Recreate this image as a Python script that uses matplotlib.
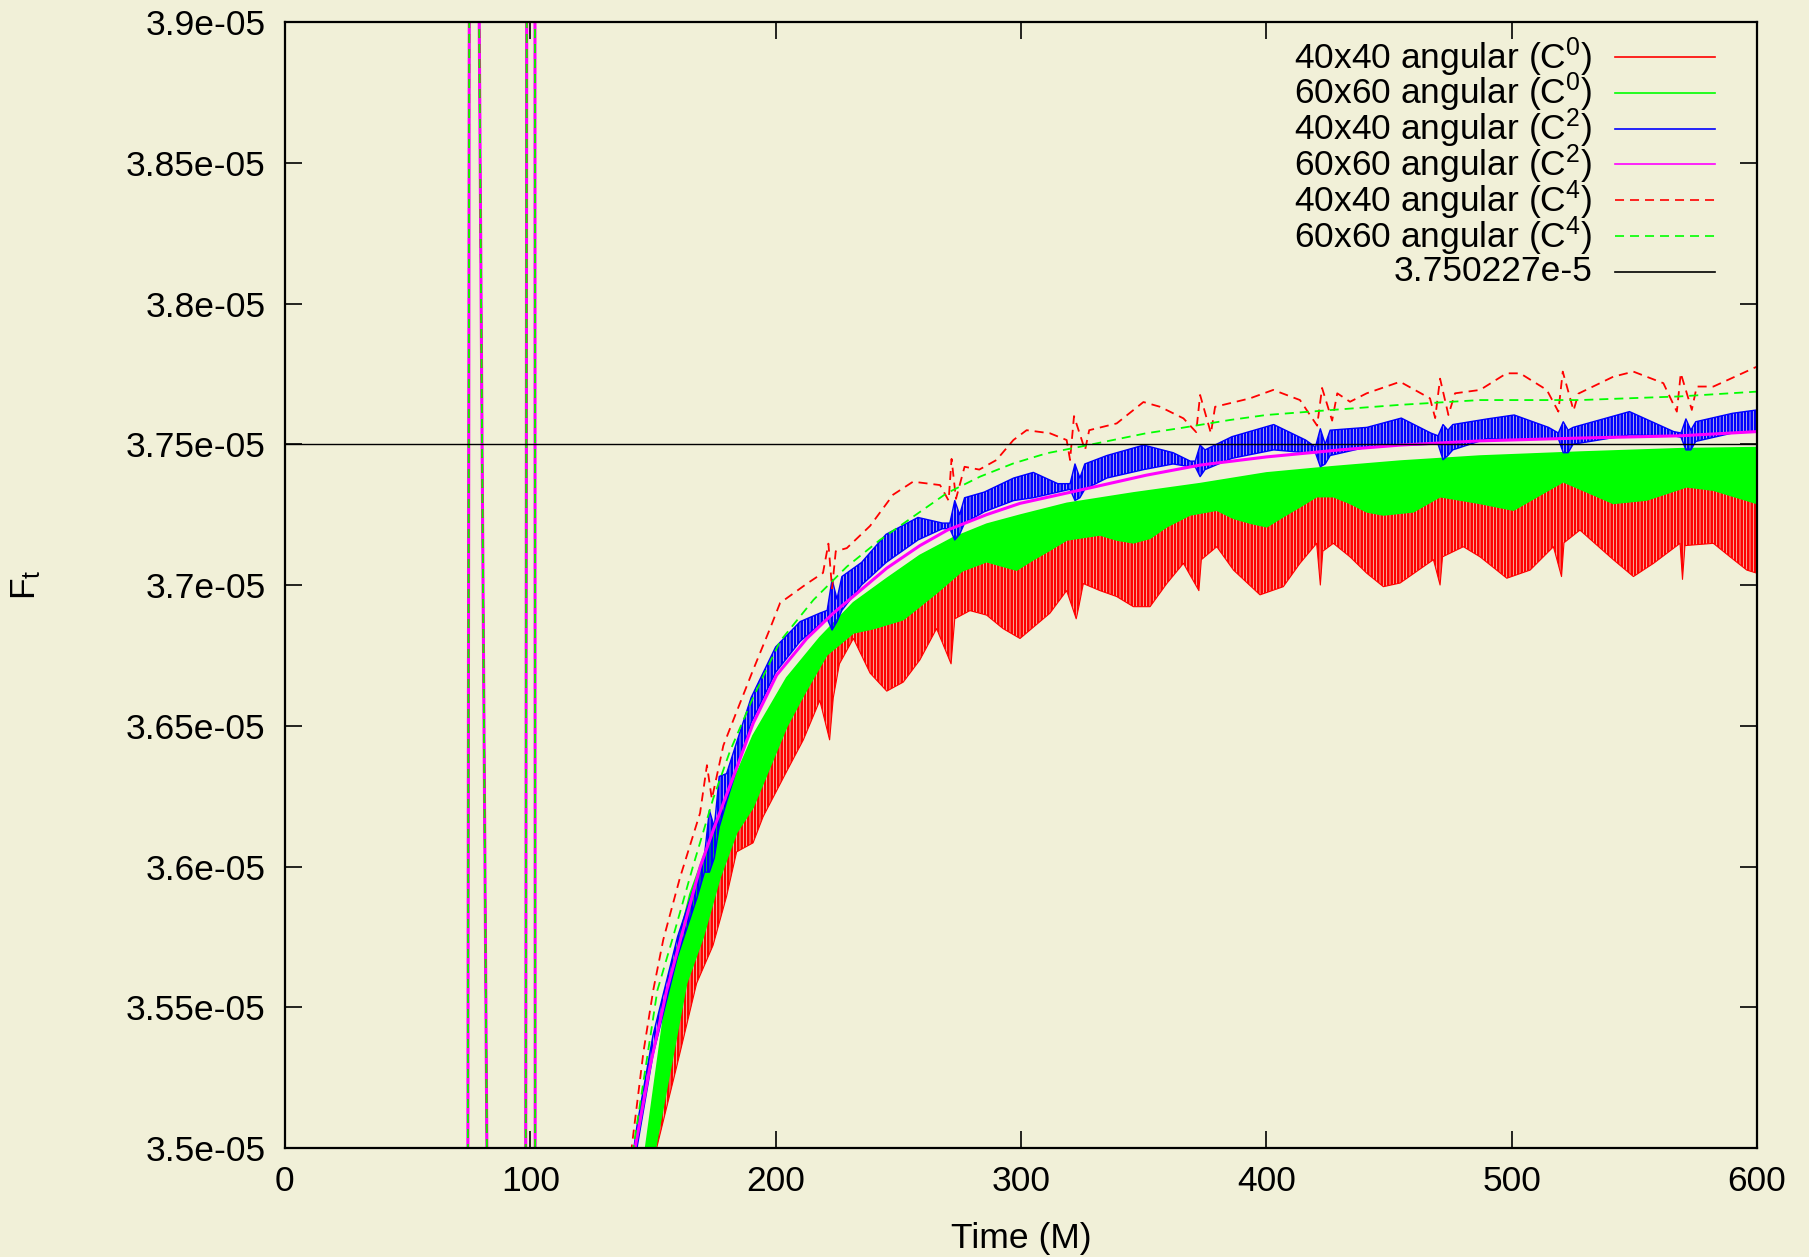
import numpy as np
import matplotlib.pyplot as plt

plt.rcParams['font.family'] = ['Liberation Sans', 'DejaVu Sans']
plt.rcParams['mathtext.fontset'] = 'custom'
plt.rcParams['mathtext.rm'] = 'Liberation Sans'
plt.rcParams['mathtext.it'] = 'Liberation Sans'
plt.rcParams['lines.scale_dashes'] = False
plt.rcParams['hatch.linewidth'] = 1.9

# all values in units of 1e-5
E = 1e-5

# early transient shared by every run (goes far off the plotted range)
transient_t = [0, 74.5, 75.2, 78.8, 82.7, 98.1, 98.6, 101.9, 102.0, 130]
transient_v = [3.20, 3.45, 3.95, 3.95, 3.45, 3.45, 3.95, 3.95, 3.45, 3.42]

# 40x40 angular (C0): oscillating band, top and bottom envelopes
c0_40_hi_t = [130, 148, 160, 175, 190, 205, 220, 240, 260, 280, 300, 340, 380, 420, 460, 500, 540, 600]
c0_40_hi = [3.42, 3.5, 3.55, 3.605, 3.642, 3.664, 3.680, 3.697, 3.708, 3.717, 3.722, 3.730,
            3.736, 3.740, 3.743, 3.745, 3.746, 3.747]
c0_40_lo_t = [130, 151.5, 159.7, 167.8, 174.5, 180, 184.1, 190.8, 194.9, 204.5,
              211.3, 218, 222, 223.5, 226, 231.7, 238.5, 245.3, 252, 258.8,
              265.6, 271.5, 273, 279.2, 286, 292.7, 299.6, 311.8, 318.6, 322.5,
              323.5, 325.4, 332.2, 339, 345.8, 352.6, 359.4, 366.2, 372.5, 373.5,
              379.8, 386.6, 397.4, 406.9, 413.7, 420.5, 422, 423, 427.3, 434.1,
              440.9, 447.7, 454.5, 459.9, 468.1, 470.8, 471.8, 480.3, 487.1, 498,
              507.5, 517, 520.3, 521.3, 527.8, 541.4, 549.6, 557.8, 568.6, 569.6,
              570.6, 582.2, 589, 595.8, 599.9]
c0_40_lo = [3.40, 3.5, 3.529, 3.5585, 3.572, 3.5894, 3.6052, 3.6084, 3.6177, 3.6338,
            3.645, 3.659, 3.645, 3.660, 3.672, 3.681, 3.6687, 3.6623, 3.6655, 3.6734,
            3.6845, 3.672, 3.688, 3.6909, 3.6893, 3.6845, 3.681, 3.690, 3.698, 3.688,
            3.692, 3.7005, 3.698, 3.6959, 3.6923, 3.6923, 3.7005, 3.7077, 3.698, 3.709,
            3.7136, 3.7053, 3.6965, 3.6994, 3.7077, 3.7148, 3.700, 3.712, 3.7148, 3.710,
            3.7042, 3.6994, 3.7007, 3.704, 3.709, 3.700, 3.710, 3.7136, 3.710, 3.7024,
            3.7053, 3.7136, 3.703, 3.715, 3.7195, 3.709, 3.703, 3.7077, 3.7148, 3.702,
            3.714, 3.7148, 3.710, 3.7053, 3.7042]

# 60x60 angular (C0)
c0_60_hi_t = [130, 147, 156.2, 165, 175.3, 190.8, 204.5, 218, 231.7, 245.3, 258.8, 272.4,
              286, 299.6, 318.7, 345.8, 373, 400, 427, 454.5, 487, 527.8, 568.6, 600]
c0_60_hi = [3.44, 3.5, 3.5585, 3.590, 3.615, 3.6465, 3.667, 3.6813, 3.6937, 3.7023, 3.7105,
            3.7168, 3.7216, 3.7248, 3.729, 3.7327, 3.736, 3.7398, 3.742, 3.7440, 3.7458,
            3.7472, 3.7484, 3.7488]
c0_60_lo_t = [130, 151, 163.7, 170.5, 177.3, 184.1, 190.8, 204.5, 211.3, 220.8,
              231.7, 239.8, 252, 265.6, 276, 286, 298.2, 305, 311.8, 318.6,
              332.2, 339, 345.8, 352.6, 359.4, 368.9, 379.8, 386.6, 393.4, 400.2,
              406.9, 413.7, 420.5, 427.3, 434.1, 440.9, 447.7, 459.9, 470.8, 487.1,
              500.7, 521, 541.4, 555, 571.3, 582.2, 599.9]
c0_60_lo = [3.40, 3.5, 3.5585, 3.575, 3.596, 3.612, 3.621, 3.6496, 3.6607, 3.6751,
            3.683, 3.6845, 3.6877, 3.6972, 3.705, 3.7083, 3.7053, 3.709, 3.7124, 3.716,
            3.7178, 3.716, 3.715, 3.7166, 3.7207, 3.7249, 3.7266, 3.7237, 3.722, 3.7207,
            3.7243, 3.7278, 3.7314, 3.7314, 3.729, 3.726, 3.7249, 3.726, 3.7314, 3.729,
            3.7266, 3.7367, 3.729, 3.7302, 3.7349, 3.7337, 3.729]

# 40x40 angular (C2)
c2_40_t = [135, 143.5, 150, 160, 168, 171, 173, 175, 177, 180,
           190, 200, 210, 218, 221, 223, 225, 227, 235, 245,
           258, 268, 271, 273, 275, 277, 285, 297, 305, 315,
           320, 322, 324, 326, 335, 350, 362, 369, 371, 373,
           375, 386, 403, 416, 420, 422, 424, 426, 441, 455,
           467, 470, 472, 474, 476, 490, 501, 515, 519, 521,
           523, 525, 548, 566, 569, 571, 573, 575, 590, 600]
c2_40_hi = [3.455, 3.508, 3.540, 3.575, 3.596, 3.604, 3.620, 3.614, 3.632, 3.633,
            3.660, 3.678, 3.687, 3.690, 3.691, 3.702, 3.695, 3.703, 3.708, 3.718,
            3.724, 3.722, 3.722, 3.730, 3.725, 3.731, 3.733, 3.738, 3.740, 3.736,
            3.736, 3.743, 3.738, 3.743, 3.746, 3.7497, 3.747, 3.744, 3.744, 3.7497,
            3.748, 3.7527, 3.757, 3.7515, 3.749, 3.7555, 3.750, 3.755, 3.756, 3.7593,
            3.754, 3.753, 3.757, 3.755, 3.757, 3.759, 3.7604, 3.756, 3.754, 3.758,
            3.755, 3.756, 3.7616, 3.7545, 3.754, 3.759, 3.755, 3.758, 3.761, 3.7622]
c2_40_lo = [3.445, 3.500, 3.533, 3.568, 3.589, 3.598, 3.598, 3.603, 3.614, 3.623,
            3.651, 3.669, 3.680, 3.686, 3.688, 3.684, 3.687, 3.691, 3.700, 3.708,
            3.716, 3.720, 3.720, 3.716, 3.718, 3.722, 3.726, 3.730, 3.731, 3.733,
            3.734, 3.730, 3.731, 3.734, 3.738, 3.741, 3.743, 3.742, 3.742, 3.7385,
            3.741, 3.745, 3.748, 3.747, 3.747, 3.742, 3.743, 3.746, 3.749, 3.7497,
            3.750, 3.750, 3.7445, 3.746, 3.748, 3.752, 3.7515, 3.752, 3.752, 3.747,
            3.747, 3.750, 3.7533, 3.753, 3.7525, 3.748, 3.748, 3.751, 3.754, 3.7545]

# 60x60 angular (C2)
c2_60_t = [130, 142.7, 148.8, 155.6, 163.7, 169.3, 174.6, 184.1, 190.9, 200.4,
           212.7, 223.5, 231.7, 245.3, 258.8, 270, 286, 299.6, 324, 351,
           373, 400, 430, 454.5, 487, 527.8, 568.6, 600]
c2_60 = [3.43, 3.5, 3.529, 3.556, 3.582, 3.600, 3.613, 3.635, 3.651, 3.668,
         3.681, 3.690, 3.696, 3.706, 3.714, 3.7195, 3.725, 3.729, 3.7337, 3.739,
         3.7426, 3.7455, 3.748, 3.7497, 3.7512, 3.7522, 3.7530, 3.7545]

# 40x40 angular (C4)
c4_40_t = [130, 141.3, 146.1, 150.1, 154.2, 161, 169.2, 172, 174, 178.7,
           184.1, 190.9, 197.7, 201.8, 212.6, 219.3, 221.5, 223, 224.5, 229,
           238.5, 247.9, 256, 267, 270.5, 271.7, 273.5, 277, 283, 290,
           296.9, 302.3, 311.8, 318.6, 320.0, 321.6, 326.1, 327.8, 339, 349.9,
           356.7, 366.2, 371.4, 373, 377.4, 379.1, 393.3, 402.8, 413.7, 420.7,
           422.7, 426.8, 428.9, 434.1, 440.9, 454.5, 466.7, 468.8, 470.8, 474.2,
           476.9, 487.1, 497.9, 503.4, 514.3, 519.0, 520.8, 525.2, 527.2, 541.4,
           549.6, 561.8, 567.3, 568.9, 573.4, 575.4, 582.2, 600]
c4_40 = [3.40, 3.5, 3.534, 3.556, 3.574, 3.596, 3.619, 3.636, 3.624, 3.643,
         3.655, 3.670, 3.6845, 3.6936, 3.7004, 3.7043, 3.7147, 3.6988, 3.712, 3.7131,
         3.721, 3.7321, 3.7367, 3.7355, 3.730, 3.7448, 3.7306, 3.742, 3.741, 3.7444,
         3.7515, 3.755, 3.7539, 3.7515, 3.7444, 3.760, 3.7479, 3.755, 3.7574, 3.765,
         3.7633, 3.7592, 3.7543, 3.7675, 3.7539, 3.7633, 3.7663, 3.7693, 3.7657, 3.7566,
         3.770, 3.7584, 3.7681, 3.7651, 3.7681, 3.7722, 3.7663, 3.7593, 3.7733, 3.7604,
         3.7681, 3.7693, 3.7752, 3.7752, 3.7693, 3.7616, 3.7758, 3.762, 3.768, 3.774,
         3.7758, 3.7717, 3.7616, 3.7752, 3.7622, 3.7705, 3.7705, 3.7776]

# 60x60 angular (C4)
c4_60_t = [130, 142, 151.8, 158.2, 166.3, 174.5, 181.4, 190.8, 201.8, 215.4,
           229, 242.5, 256.1, 269.7, 283.3, 296.9, 310.5, 324, 337.5, 351,
           364.7, 385, 400, 427, 454.5, 487, 527.8, 568.6, 600]
c4_60 = [3.42, 3.5, 3.556, 3.575, 3.600, 3.624, 3.641, 3.660, 3.680, 3.6947,
         3.7065, 3.716, 3.7243, 3.7326, 3.7385, 3.7432, 3.7468, 3.7491, 3.7515, 3.7539,
         3.7557, 3.7586, 3.7604, 3.7622, 3.764, 3.7657, 3.7657, 3.767, 3.7687]

ref_t = [0, 600]
ref_v = [3.750227, 3.750227]

labels = ['40x40 angular (C$^0$)', '60x60 angular (C$^0$)', '40x40 angular (C$^2$)',
          '60x60 angular (C$^2$)', '40x40 angular (C$^4$)', '60x60 angular (C$^4$)',
          '3.750227e-5']

bg = '#f1f0d8'
red, green, blue, magenta = '#ff0000', '#00ff00', '#0000ff', '#ff00ff'
dash = (6.5, 4.3)
FS = 25.5

fig = plt.figure(figsize=(18.09, 12.57), dpi=100, facecolor=bg)
ax = fig.add_axes([0.1575, 0.0867, 0.8138, 0.8958])
ax.set_facecolor(bg)


def band(t_hi, hi, t_lo, lo, color, z, hatch=None, edge_lw=1.2):
    # the runs oscillate too fast to draw point by point: show the envelope
    xs = np.concatenate([t_hi, t_lo[::-1]])
    ys = np.concatenate([hi, lo[::-1]]) * E
    if hatch:
        ax.fill(xs, ys, facecolor='none', edgecolor=color, hatch=hatch, lw=0, zorder=z)
    else:
        ax.fill(xs, ys, color=color, lw=0, zorder=z)
    ax.plot(t_hi, np.array(hi) * E, color=color, lw=edge_lw, zorder=z)
    ax.plot(t_lo, np.array(lo) * E, color=color, lw=edge_lw, zorder=z)


tr_v = np.array(transient_v) * E

# C0 40x40
ax.plot(transient_t, tr_v, color=red, lw=1.2, zorder=2)
band(c0_40_hi_t, c0_40_hi, c0_40_lo_t, c0_40_lo, red, 2, hatch='|||||', edge_lw=0.8)
# C0 60x60
ax.plot(transient_t, tr_v, color=green, lw=1.2, zorder=3)
band(c0_60_hi_t, c0_60_hi, c0_60_lo_t, c0_60_lo, green, 3)
# C2 40x40
ax.plot(transient_t, tr_v, color=blue, lw=1.2, zorder=4)
band(c2_40_t, c2_40_hi, c2_40_t, c2_40_lo, blue, 4, hatch='|||||', edge_lw=1.0)
# C2 60x60
ax.plot(transient_t + c2_60_t, np.array(transient_v + c2_60) * E, color=magenta, lw=2.2, zorder=5)
# C4 runs (dashed)
ax.plot(transient_t + c4_40_t, np.array(transient_v + c4_40) * E, color=red, lw=1.3,
        dashes=dash, zorder=6)
ax.plot(transient_t + c4_60_t, np.array(transient_v + c4_60) * E, color=green, lw=1.3,
        dashes=dash, zorder=7)
# reference value
ax.plot(ref_t, np.array(ref_v) * E, color='black', lw=1.0, zorder=8)

ax.set_xlim(0, 600)
ax.set_ylim(3.5e-5, 3.9e-5)
ax.set_xticks(range(0, 601, 100))
yt = np.arange(3.5, 3.901, 0.05) * E
ax.set_yticks(yt)
ax.set_yticklabels(['%g' % float('%.4g' % y) for y in yt])
ax.tick_params(direction='in', length=12, width=1.2, top=True, right=True, labelsize=FS)
ax.tick_params(axis='x', pad=12)
ax.tick_params(axis='y', pad=14)
for s in ax.spines.values():
    s.set_linewidth(1.6)
    s.set_zorder(10)

ax.text(0.5, -0.08, 'Time (M)', transform=ax.transAxes, ha='center', va='center', fontsize=FS)
ax.text(-0.176, 0.5, 'F$_t$', transform=ax.transAxes, ha='center', va='center',
        rotation=90, fontsize=FS)

# key, gnuplot style: text right-aligned, sample line to the right
styles = [(red, None), (green, None), (blue, None), (magenta, None),
          (red, dash), (green, dash), ('black', None)]
for i, (lab, (col, ds)) in enumerate(zip(labels, styles)):
    y = 0.969 - i * 0.0318
    ax.text(0.888, y, lab, transform=ax.transAxes, ha='right', va='center', fontsize=FS,
            zorder=11)
    kw = {'dashes': ds} if ds else {}
    ax.plot([0.9035, 0.9715], [y, y], transform=ax.transAxes, color=col, lw=1.2,
            zorder=11, **kw)

fig.savefig('out.png', dpi=100, facecolor=bg)
